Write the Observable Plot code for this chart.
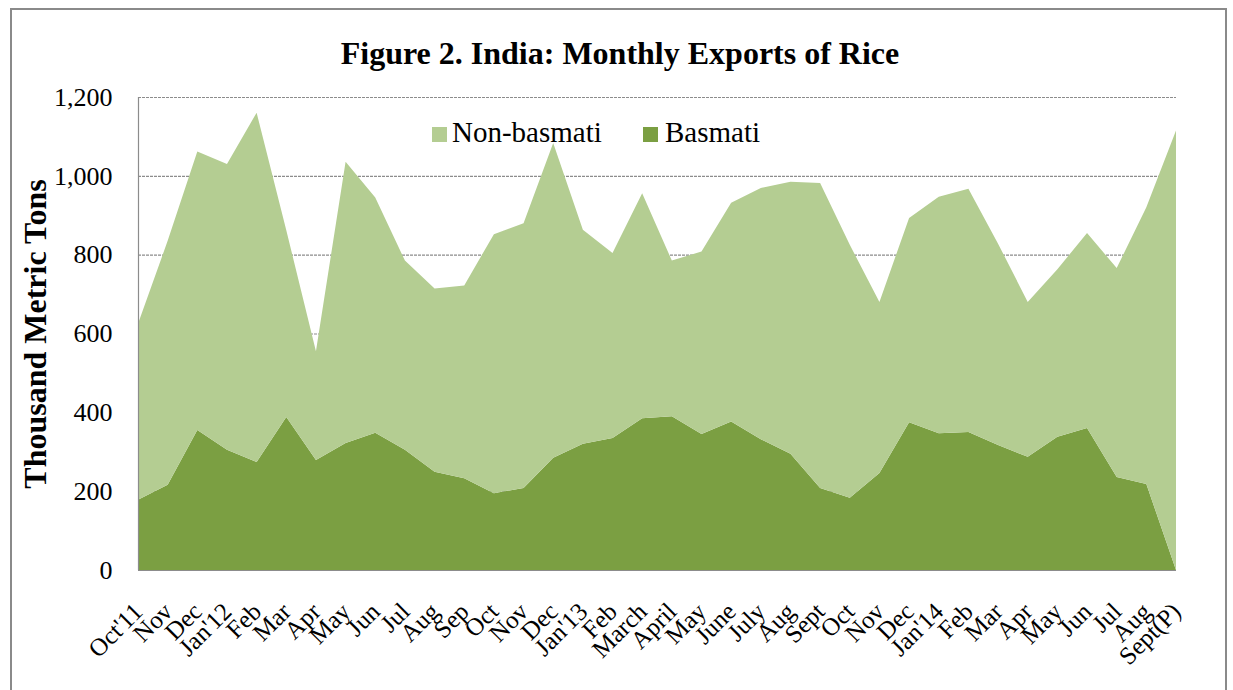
<!DOCTYPE html>
<html>
<head>
<meta charset="utf-8">
<script src="https://cdn.jsdelivr.net/npm/d3@7"></script>
<script src="https://cdn.jsdelivr.net/npm/@observablehq/plot@0.6"></script>
<style>
  html, body { margin: 0; padding: 0; background: #fff; }
  #wrap { position: relative; width: 1233px; height: 690px; overflow: hidden; font-family: "Liberation Serif", "Times New Roman", serif; }
  #frame { position: absolute; left: 10px; top: 8px; width: 1217px; height: 700px; border: 2px solid #8a8a8a; box-sizing: border-box; }
  #title { position: absolute; left: 0; width: 1240px; top: 37px; text-align: center; font-size: 32px; line-height: 32px; font-weight: bold; color: #000; }
  .leg { position: absolute; font-size: 29px; line-height: 29px; color: #000; }
  .sw { position: absolute; width: 15px; height: 15px; }
  #chart { position: absolute; left: 0; top: 0; }
</style>
</head>
<body>
<div id="wrap">
  <div id="chart"></div>
  <div id="frame"></div>
  <div id="title"></div>
  <div id="legend"></div>
</div>
<script>
const titleText = "Figure 2. India: Monthly Exports of Rice";
const yTitle = "Thousand Metric Tons";
const seriesNames = ["Non-basmati", "Basmati"];
const seriesColors = ["#b4cd92", "#7b9f42"];

const xLabels = ["Oct'11","Nov","Dec","Jan'12","Feb","Mar","Apr","May","Jun","Jul","Aug","Sep",
  "Oct","Nov","Dec","Jan'13","Feb","March","April","May","June","July","Aug","Sept",
  "Oct","Nov","Dec","Jan'14","Feb","Mar","Apr","May","Jun","Jul","Aug","Sept(P)"];

const basmati = [178,216,355,305,274,388,279,322,348,305,249,233,
  195,208,285,320,335,385,390,345,377,332,295,208,
  183,246,375,347,350,317,287,338,360,236,218,0];

const nonBasmati = [447,619,707,725,886,474,276,714,597,480,465,489,
  657,672,798,543,469,571,395,463,555,637,690,774,
  642,434,518,600,617,511,393,425,495,530,702,1115];

const yTicks = [0,200,400,600,800,1000,1200];

const tidy = [];
xLabels.forEach((lab, i) => {
  tidy.push({i, series: "Basmati", value: basmati[i]});
  tidy.push({i, series: "Non-basmati", value: nonBasmati[i]});
});

const chart = Plot.plot({
  width: 1233,
  height: 690,
  marginLeft: 138,
  marginRight: 57,
  marginTop: 97,
  marginBottom: 120,
  style: { fontFamily: "Liberation Serif, Times New Roman, serif", background: "transparent", color: "#000" },
  x: { type: "linear", domain: [0, xLabels.length - 1] },
  y: { domain: [0, 1200] },
  color: { domain: seriesNames, range: seriesColors },
  marks: [
    Plot.gridY(yTicks, { stroke: "#8c8c8c", strokeOpacity: 1, strokeDasharray: "3,1", strokeWidth: 1.2 }),
    Plot.areaY(tidy, { x: "i", y: "value", fill: "series", order: ["Basmati", "Non-basmati"] }),
    Plot.ruleX([0], { stroke: "#8c8c8c", strokeWidth: 1.2 }),
    Plot.ruleY([0], { stroke: "#8c8c8c", strokeWidth: 1.2 }),
    Plot.axisY(yTicks, { tickSize: 0, tickPadding: 26, fontSize: 26, label: null, tickFormat: d3.format(",") }),
    Plot.axisX(d3.range(xLabels.length), { tickSize: 0, tickPadding: 37, fontSize: 25, tickRotate: -45, label: null, tickFormat: i => xLabels[i] }),
    Plot.text([yTitle], { frameAnchor: "left", textAnchor: "middle", dx: -103, rotate: -90, fontSize: 32, fontWeight: "bold", fill: "#000" })
  ]
});
document.getElementById("chart").appendChild(chart);
document.getElementById("title").textContent = titleText;

const legend = document.getElementById("legend");
const legItems = [
  { name: seriesNames[0], color: seriesColors[0], sx: 432, tx: 452 },
  { name: seriesNames[1], color: seriesColors[1], sx: 643, tx: 665 }
];
legItems.forEach(it => {
  const sw = document.createElement("div");
  sw.className = "sw";
  sw.style.left = it.sx + "px";
  sw.style.top = "127px";
  sw.style.background = it.color;
  legend.appendChild(sw);
  const t = document.createElement("div");
  t.className = "leg";
  t.style.left = it.tx + "px";
  t.style.top = "118px";
  t.textContent = it.name;
  legend.appendChild(t);
});
</script>
</body>
</html>
